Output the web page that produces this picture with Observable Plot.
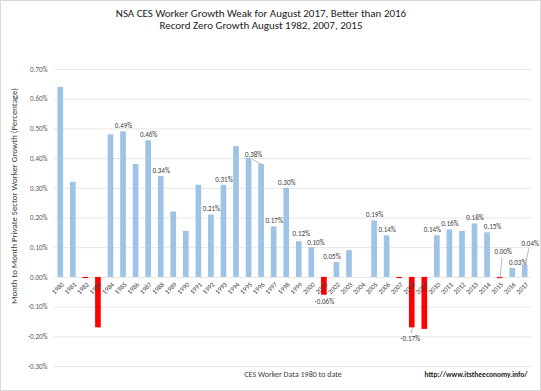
<!DOCTYPE html>
<html>
<head>
<meta charset="utf-8">
<script src="https://cdn.jsdelivr.net/npm/d3@7"></script>
<script src="https://cdn.jsdelivr.net/npm/@observablehq/plot@0.6"></script>
<style>
  html, body { margin: 0; padding: 0; background: #fff; }
  #chart { position: relative; width: 541px; height: 391px; box-sizing: border-box; border: 1px solid #d9d9d9; background: #fff; font-family: Carlito, Lato, "Open Sans", sans-serif; }
  #title { height: 35px; box-sizing: border-box; padding-top: 7px; padding-right: 19px; text-align: center; font-size: 11px; line-height: 12px; color: #222; }
  svg { display: block; }
</style>
</head>
<body>
<div id="chart">
  <div id="title">NSA CES Worker Growth Weak for August 2017, Better than 2016<br>Record Zero Growth August 1982, 2007, 2015</div>
</div>
<script>
const years = [1980,1981,1982,1983,1984,1985,1986,1987,1988,1989,1990,1991,1992,1993,1994,1995,1996,1997,1998,1999,2000,2001,2002,2003,2004,2005,2006,2007,2008,2009,2010,2011,2012,2013,2014,2015,2016,2017];
const growth = [0.64,0.32,-0.004,-0.17,0.48,0.49,0.38,0.46,0.34,0.22,0.155,0.31,0.21,0.31,0.44,0.40,0.38,0.17,0.30,0.12,0.10,-0.06,0.05,0.09,0,0.19,0.14,-0.004,-0.17,-0.175,0.14,0.16,0.155,0.18,0.15,-0.004,0.03,0.04];
const yTicks = [-0.3,-0.2,-0.1,0,0.1,0.2,0.3,0.4,0.5,0.6,0.7];
const labelYears = [1985,1987,1988,1992,1993,1997,1998,2001,2005,2006,2011,2013];
const shiftedLeftYears = [2002,2010];
const shiftedRightYears = [2014,2016];
const yTitle = "Month to Month Private Sector Worker Growth (Percentage)";
const xTitle = "CES Worker Data 1980 to date";
const sourceText = "http://www.itstheeconomy.info/";

const data = years.map((year, i) => ({year, value: growth[i]}));
const pct = v => (Math.abs(v) < 0.005 ? 0 : v).toFixed(2) + "%";
const byYear = ys => data.filter(d => ys.includes(d.year));
const pos = byYear(labelYears).filter(d => d.value >= 0);
const neg = byYear(labelYears).filter(d => d.value < 0);
const one = y => data.filter(d => d.year === y);
const leaderShape = { draw(context, l) { context.moveTo(0, 0); context.lineTo(0, -l); } };
const FF = 'Carlito, Lato, "Open Sans", sans-serif';
const labelFill = "#404040";
const LFS = 7;
const lbl = (arr, dx, dy) => Plot.text(arr, { x: "year", y: "value", text: d => pct(d.value), dx, dy, fontSize: LFS, fill: labelFill });
const leader = (arr, length, rotate) => Plot.vector(arr, { x: "year", y: "value", length, rotate, anchor: "start", shape: leaderShape, stroke: "#a6a6a6", strokeWidth: 0.75 });

const chart = Plot.plot({
  width: 539,
  height: 354,
  marginTop: 33,
  marginBottom: 24,
  marginLeft: 53,
  marginRight: 9,
  style: { fontFamily: FF, background: "#fff", overflow: "visible" },
  x: { type: "band", domain: years, paddingInner: 0.55, paddingOuter: 0.275, round: false, axis: null },
  y: { domain: [-0.3, 0.7], ticks: yTicks, tickFormat: pct, tickSize: 0, tickPadding: 7, label: null },
  marks: [
    Plot.ruleY(yTicks, { stroke: "#e6e6e6", strokeWidth: 1 }),
    Plot.axisY({ ticks: yTicks, tickFormat: pct, tickSize: 0, tickPadding: 7, fontSize: 7, fill: "#595959", label: null }),
    Plot.barY(data, { x: "year", y: "value", fill: d => d.value < 0 ? "#ff0000" : "#9dc3e6" }),
    Plot.text(data, { x: "year", y: 0, text: d => String(d.year), rotate: -45, textAnchor: "end", fontSize: 6.8, fill: "#404040", dx: 2, dy: 6 }),
    lbl(pos, 0, -6),
    lbl(neg, 0, 7),
    lbl(byYear(shiftedLeftYears), -5, -6),
    lbl(byYear(shiftedRightYears), 5, -6),
    lbl(one(1999), 2, -8),
    lbl(one(2000), 4, -5),
    lbl(one(1996), -8, -10),
    lbl(one(2008), -2, 11),
    lbl(one(2015), 3, -27),
    lbl(one(2017), 5, -22),
    leader(one(1996), 10, -60),
    leader(one(2015), 21, 5),
    leader(one(2017), 17, 12),
    leader(one(2008), 5, 190),
    Plot.text([yTitle], { frameAnchor: "left", textAnchor: "middle", rotate: -90, dx: -40, dy: -22, fontSize: 8.8, fill: "#404040" }),
    Plot.text([xTitle], { frameAnchor: "bottom", textAnchor: "middle", dy: 10, fontSize: 8, fill: "#404040" }),
    Plot.text([sourceText], { frameAnchor: "bottom-right", textAnchor: "end", dx: -4, dy: 10, fontSize: 7.5, fontWeight: "bold", fill: "#222" })
  ]
});
document.getElementById("chart").appendChild(chart);
</script>
</body>
</html>
